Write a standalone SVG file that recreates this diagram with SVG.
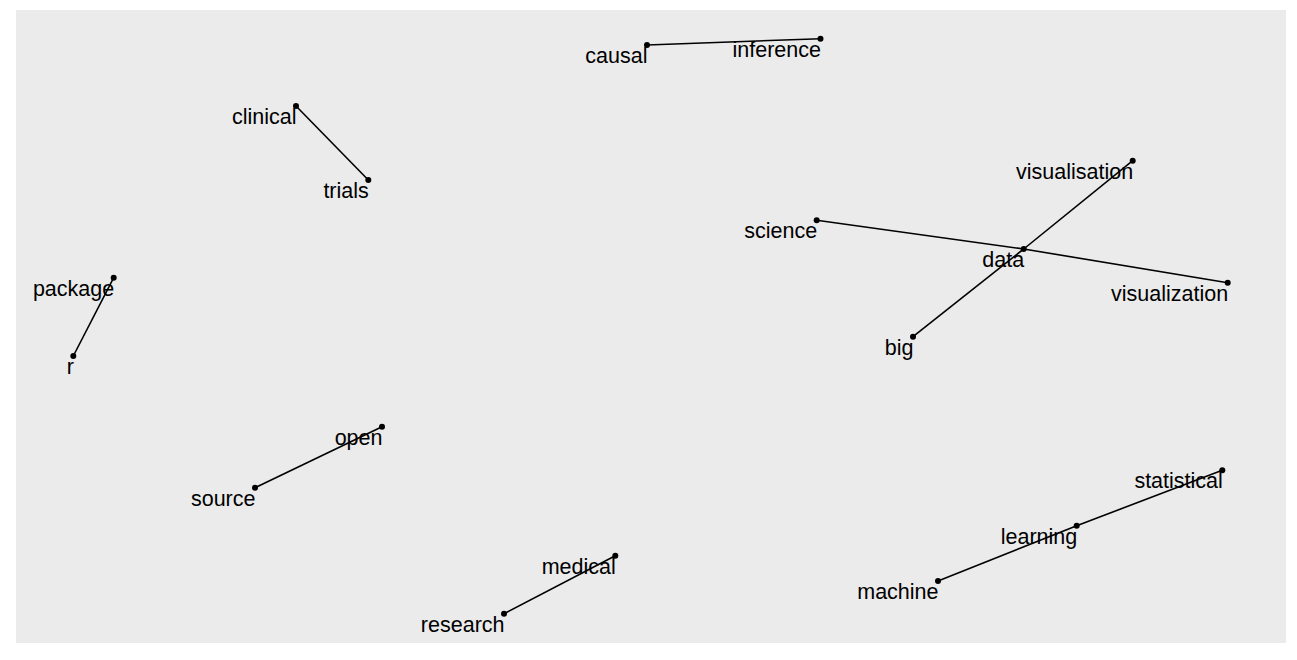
<svg xmlns="http://www.w3.org/2000/svg" width="1297" height="660" viewBox="0 0 1297 660">
<style>
.e{stroke:#000;stroke-width:1.6;fill:none}
.p{fill:#000}
.t{font-family:"Liberation Sans",Arial,sans-serif;font-size:21.5px;fill:#000;text-anchor:end}
</style>
<rect x="0" y="0" width="1297" height="660" fill="#fff"/>
<rect x="16" y="10" width="1270" height="633" fill="#EBEBEB"/>
<g id="edges">
<line class="e" x1="647" y1="45" x2="820.5" y2="38.7"/>
<line class="e" x1="296" y1="106" x2="368.3" y2="180"/>
<line class="e" x1="113.7" y1="277.7" x2="73.3" y2="356"/>
<line class="e" x1="816.7" y1="220.3" x2="1023.7" y2="249"/>
<line class="e" x1="1023.7" y1="249" x2="1227.7" y2="282.7"/>
<line class="e" x1="913" y1="336.7" x2="1023.7" y2="249"/>
<line class="e" x1="1023.7" y1="249" x2="1132.7" y2="160.7"/>
<line class="e" x1="382" y1="426.7" x2="255" y2="487.7"/>
<line class="e" x1="615.3" y1="555.7" x2="504" y2="613.7"/>
<line class="e" x1="1222.3" y1="470.3" x2="1076.7" y2="525.7"/>
<line class="e" x1="1076.7" y1="525.7" x2="938" y2="581"/>
</g>
<g id="n-causal"><circle class="p" cx="647" cy="45" r="3"/><text class="t" x="647.5" y="62.8">causal</text></g>
<g id="n-inference"><circle class="p" cx="820.5" cy="38.7" r="3"/><text class="t" x="821" y="56.5">inference</text></g>
<g id="n-clinical"><circle class="p" cx="296" cy="106" r="3"/><text class="t" x="296.5" y="123.8">clinical</text></g>
<g id="n-trials"><circle class="p" cx="368.3" cy="180" r="3"/><text class="t" x="368.8" y="197.8">trials</text></g>
<g id="n-package"><circle class="p" cx="113.7" cy="277.7" r="3"/><text class="t" x="114.2" y="295.5">package</text></g>
<g id="n-r"><circle class="p" cx="73.3" cy="356" r="3"/><text class="t" x="73.8" y="373.8">r</text></g>
<g id="n-science"><circle class="p" cx="816.7" cy="220.3" r="3"/><text class="t" x="817.2" y="238.1">science</text></g>
<g id="n-data"><circle class="p" cx="1023.7" cy="249" r="3"/><text class="t" x="1024.2" y="266.8">data</text></g>
<g id="n-visualization"><circle class="p" cx="1227.7" cy="282.7" r="3"/><text class="t" x="1228.2" y="300.5">visualization</text></g>
<g id="n-visualisation"><circle class="p" cx="1132.7" cy="160.7" r="3"/><text class="t" x="1133.2" y="178.5">visualisation</text></g>
<g id="n-big"><circle class="p" cx="913" cy="336.7" r="3"/><text class="t" x="913.5" y="354.5">big</text></g>
<g id="n-open"><circle class="p" cx="382" cy="426.7" r="3"/><text class="t" x="382.5" y="444.5">open</text></g>
<g id="n-source"><circle class="p" cx="255" cy="487.7" r="3"/><text class="t" x="255.5" y="505.5">source</text></g>
<g id="n-medical"><circle class="p" cx="615.3" cy="555.7" r="3"/><text class="t" x="615.8" y="573.5">medical</text></g>
<g id="n-research"><circle class="p" cx="504" cy="613.7" r="3"/><text class="t" x="504.5" y="631.5">research</text></g>
<g id="n-statistical"><circle class="p" cx="1222.3" cy="470.3" r="3"/><text class="t" x="1222.8" y="488.1">statistical</text></g>
<g id="n-learning"><circle class="p" cx="1076.7" cy="525.7" r="3"/><text class="t" x="1077.2" y="543.5">learning</text></g>
<g id="n-machine"><circle class="p" cx="938" cy="581" r="3"/><text class="t" x="938.5" y="598.8">machine</text></g>
</svg>
